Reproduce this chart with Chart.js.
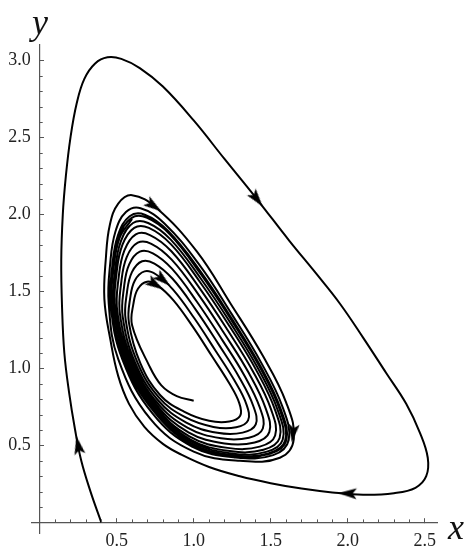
<!DOCTYPE html>
<html>
<head>
<meta charset="utf-8">
<script src="https://cdn.jsdelivr.net/npm/chart.js@4.4.0/dist/chart.umd.min.js"></script>
<style>
  body { margin: 0; background: #fff; }
  #wrap { position: relative; width: 465px; height: 547px; }
  .axlab { position: absolute; font-family: 'Liberation Serif', serif; font-style: italic; font-size: 36px; line-height: 36px; color: #111; }
</style>
</head>
<body>
<div id="wrap">
  <canvas id="phase" width="465" height="547"></canvas>
  <span class="axlab" style="left:32px; top:4px;">y</span>
  <span class="axlab" style="left:448px; top:509px;">x</span>
</div>
<script>
// labelled ticks
const xTicks = [0.5, 1.0, 1.5, 2.0, 2.5];
const yTicks = [0.5, 1.0, 1.5, 2.0, 2.5, 3.0];

// trajectory from the x axis: big swing, then winds in onto the cycle
const outerPath = [
    [0.40, 0.00], [0.33, 0.20], [0.27, 0.40], [0.23, 0.60], [0.19, 0.85], [0.16, 1.10],
    [0.145, 1.40], [0.14, 1.70], [0.15, 2.00], [0.17, 2.25], [0.20, 2.50], [0.24, 2.72],
    [0.29, 2.88], [0.36, 2.98], [0.44, 3.02], [0.53, 3.01], [0.65, 2.95], [0.80, 2.83],
    [1.00, 2.61], [1.20, 2.36], [1.41, 2.10], [1.62, 1.83], [1.80, 1.61], [1.95, 1.42],
    [2.10, 1.20], [2.25, 0.97], [2.38, 0.77], [2.47, 0.58], [2.52, 0.42], [2.51, 0.30],
    [2.44, 0.225], [2.30, 0.19], [2.10, 0.18], [1.90, 0.195], [1.70, 0.22], [1.50, 0.255],
    [1.30, 0.30], [1.10, 0.36], [0.92, 0.44], [0.80, 0.51], [0.68, 0.62], [0.58, 0.77],
    [0.51, 0.95], [0.46, 1.18],
    [0.42, 1.45], [0.43, 1.72], [0.455, 1.93], [0.51, 2.07], [0.60, 2.125], [0.76, 2.04],
    [1.02, 1.76], [1.24, 1.42], [1.45, 1.08], [1.60, 0.78], [1.65, 0.54], [1.56, 0.42],
    [1.30, 0.40], [1.00, 0.46], [0.72, 0.67], [0.51, 1.06],
    [0.448, 1.423], [0.458, 1.682], [0.491, 1.886], [0.560, 2.015], [0.655, 2.040], [0.810, 1.941],
    [1.037, 1.672], [1.246, 1.354], [1.439, 1.036], [1.578, 0.747], [1.617, 0.535], [1.516, 0.437],
    [1.273, 0.422], [0.989, 0.493], [0.731, 0.709], [0.538, 1.055],
    [0.461, 1.409], [0.471, 1.663], [0.508, 1.864], [0.584, 1.988], [0.682, 1.998], [0.834, 1.892],
    [1.045, 1.629], [1.248, 1.322], [1.434, 1.014], [1.567, 0.731], [1.601, 0.532], [1.494, 0.445],
    [1.259, 0.433], [0.984, 0.509], [0.736, 0.727], [0.551, 1.052],
    [0.467, 1.403], [0.477, 1.654], [0.516, 1.855], [0.595, 1.976], [0.694, 1.979], [0.845, 1.871],
    [1.048, 1.610], [1.249, 1.307], [1.431, 1.005], [1.562, 0.724], [1.594, 0.531], [1.485, 0.448],
    [1.253, 0.438], [0.981, 0.516], [0.739, 0.736], [0.557, 1.051],
    [0.47, 1.40], [0.48, 1.65], [0.52, 1.85], [0.60, 1.97]
];

// trajectory from (1.0, 0.79): spirals outwards onto the cycle
const innerPath = [
    [1.00, 0.79], [0.89, 0.82], [0.79, 0.89], [0.71, 1.02],
    [0.600, 1.280], [0.609, 1.422], [0.638, 1.517], [0.697, 1.563], [0.767, 1.538], [0.869, 1.442],
    [0.994, 1.271], [1.120, 1.077], [1.228, 0.908], [1.296, 0.775], [1.302, 0.692], [1.231, 0.655],
    [1.100, 0.660], [0.937, 0.720], [0.783, 0.826], [0.654, 1.033],
    [0.579, 1.299], [0.588, 1.459], [0.618, 1.571], [0.681, 1.630], [0.756, 1.610], [0.866, 1.512],
    [1.003, 1.327], [1.142, 1.115], [1.263, 0.924], [1.343, 0.765], [1.353, 0.663], [1.276, 0.618],
    [1.128, 0.620], [0.945, 0.683], [0.775, 0.810], [0.636, 1.036],
    [0.558, 1.318], [0.567, 1.496], [0.599, 1.625], [0.665, 1.696], [0.745, 1.681], [0.863, 1.582],
    [1.013, 1.382], [1.164, 1.153], [1.297, 0.940], [1.387, 0.756], [1.403, 0.636], [1.318, 0.583],
    [1.154, 0.582], [0.952, 0.648], [0.767, 0.795], [0.619, 1.039],
    [0.539, 1.336], [0.548, 1.530], [0.581, 1.676], [0.650, 1.758], [0.735, 1.747], [0.860, 1.646],
    [1.021, 1.433], [1.184, 1.187], [1.329, 0.954], [1.429, 0.747], [1.449, 0.610], [1.359, 0.550],
    [1.178, 0.546], [0.959, 0.616], [0.760, 0.781], [0.604, 1.042],
    [0.521, 1.353], [0.530, 1.562], [0.565, 1.723], [0.637, 1.816], [0.725, 1.809], [0.857, 1.706],
    [1.030, 1.481], [1.203, 1.220], [1.359, 0.968], [1.468, 0.739], [1.491, 0.586], [1.396, 0.519],
    [1.200, 0.513], [0.966, 0.585], [0.754, 0.768], [0.590, 1.045],
    [0.504, 1.369], [0.513, 1.592], [0.550, 1.766], [0.624, 1.870], [0.716, 1.866], [0.855, 1.761],
    [1.037, 1.523], [1.220, 1.249], [1.385, 0.980], [1.503, 0.732], [1.529, 0.564], [1.429, 0.492],
    [1.220, 0.484], [0.972, 0.559], [0.748, 0.756], [0.577, 1.047],
    [0.490, 1.382], [0.499, 1.617], [0.537, 1.802], [0.614, 1.913], [0.709, 1.912], [0.853, 1.805],
    [1.043, 1.558], [1.234, 1.272], [1.406, 0.989], [1.530, 0.726], [1.558, 0.548], [1.453, 0.472],
    [1.235, 0.463], [0.976, 0.540], [0.744, 0.748], [0.568, 1.049],
    [0.479, 1.392], [0.489, 1.635], [0.528, 1.828], [0.606, 1.944], [0.704, 1.944], [0.851, 1.836],
    [1.047, 1.582], [1.243, 1.289], [1.420, 0.996], [1.548, 0.723], [1.578, 0.537], [1.470, 0.458],
    [1.245, 0.448], [0.979, 0.527], [0.741, 0.743], [0.563, 1.050],
    [0.473, 1.398]
];

// arrowheads: where they sit and which way they point (deg, clockwise from up)
const arrowPoints = [
    [0.25, 0.50], [1.41, 2.10], [2.00, 0.188], [0.74, 2.055], [1.645, 0.58], [0.75, 1.545], [0.80, 1.576]
];
const arrowAngles = [349, 142, 272, 125, 187, 122, 130];

function toXY(list) {
    return list.map(p => ({ x: p[0], y: p[1] }));
}

// arrowhead pointing up, centred on its canvas
function makeArrow() {
    const c = document.createElement("canvas");
    c.width = 12;
    c.height = 19;
    const g = c.getContext("2d");
    g.fillStyle = "#000";
    g.beginPath();
    g.moveTo(6, 0);
    g.lineTo(11.5, 18.5);
    g.lineTo(6, 14.5);
    g.lineTo(0.5, 18.5);
    g.closePath();
    g.fill();
    return c;
}

// small unlabelled ticks every 0.1
const minorTicks = {
    id: "minorTicks",
    afterDraw(chart) {
        const xs = chart.scales.x;
        const ys = chart.scales.y;
        const ctx = chart.ctx;
        const x0 = xs.getPixelForValue(0);
        const y0 = ys.getPixelForValue(0);
        ctx.save();
        ctx.strokeStyle = "#555";
        ctx.lineWidth = 1;
        ctx.beginPath();
        for (let i = 1; i <= 25; i++) {
            if (i % 5 === 0) continue;
            const px = Math.round(xs.getPixelForValue(i / 10)) + 0.5;
            ctx.moveTo(px, y0);
            ctx.lineTo(px, y0 - 3);
        }
        for (let i = 1; i <= 30; i++) {
            if (i % 5 === 0) continue;
            const py = Math.round(ys.getPixelForValue(i / 10)) + 0.5;
            ctx.moveTo(x0, py);
            ctx.lineTo(x0 + 3, py);
        }
        ctx.stroke();
        ctx.restore();
    }
};

const curveStyle = {
    showLine: true,
    borderColor: "#000",
    borderWidth: 2,
    pointRadius: 0,
    tension: 0.4,
    fill: false
};

new Chart(document.getElementById("phase"), {
    type: "scatter",
    data: {
        datasets: [
            {
                data: toXY(arrowPoints),
                pointStyle: makeArrow(),
                pointRadius: 6,
                pointRotation: arrowAngles,
                showLine: false
            },
            Object.assign({ data: toXY(outerPath) }, curveStyle),
            Object.assign({ data: toXY(innerPath) }, curveStyle)
        ]
    },
    options: {
        responsive: false,
        animation: false,
        layout: { padding: { left: 32, right: 28, top: 45, bottom: 11 } },
        plugins: { legend: { display: false }, tooltip: { enabled: false } },
        scales: {
            x: {
                type: "linear",
                min: -0.05,
                max: 2.58,
                position: { y: 0 },
                afterBuildTicks: s => { s.ticks = xTicks.map(v => ({ value: v })); },
                ticks: {
                    callback: v => v.toFixed(1),
                    font: { family: "'Liberation Serif', serif", size: 18 },
                    color: "#222",
                    padding: 13,
                    maxRotation: 0,
                    autoSkip: false
                },
                grid: { drawOnChartArea: false, tickLength: -5, tickColor: "#555", tickWidth: 1 },
                border: { color: "#555", width: 1.2 }
            },
            y: {
                type: "linear",
                min: -0.07,
                max: 3.10,
                position: { x: 0 },
                afterBuildTicks: s => { s.ticks = yTicks.map(v => ({ value: v })); },
                ticks: {
                    callback: v => v.toFixed(1) + "  ",
                    font: { family: "'Liberation Serif', serif", size: 18 },
                    color: "#222",
                    autoSkip: false
                },
                grid: { drawOnChartArea: false, tickLength: -5, tickColor: "#555", tickWidth: 1 },
                border: { color: "#555", width: 1.2 }
            }
        }
    },
    plugins: [minorTicks]
});
</script>
</body>
</html>
